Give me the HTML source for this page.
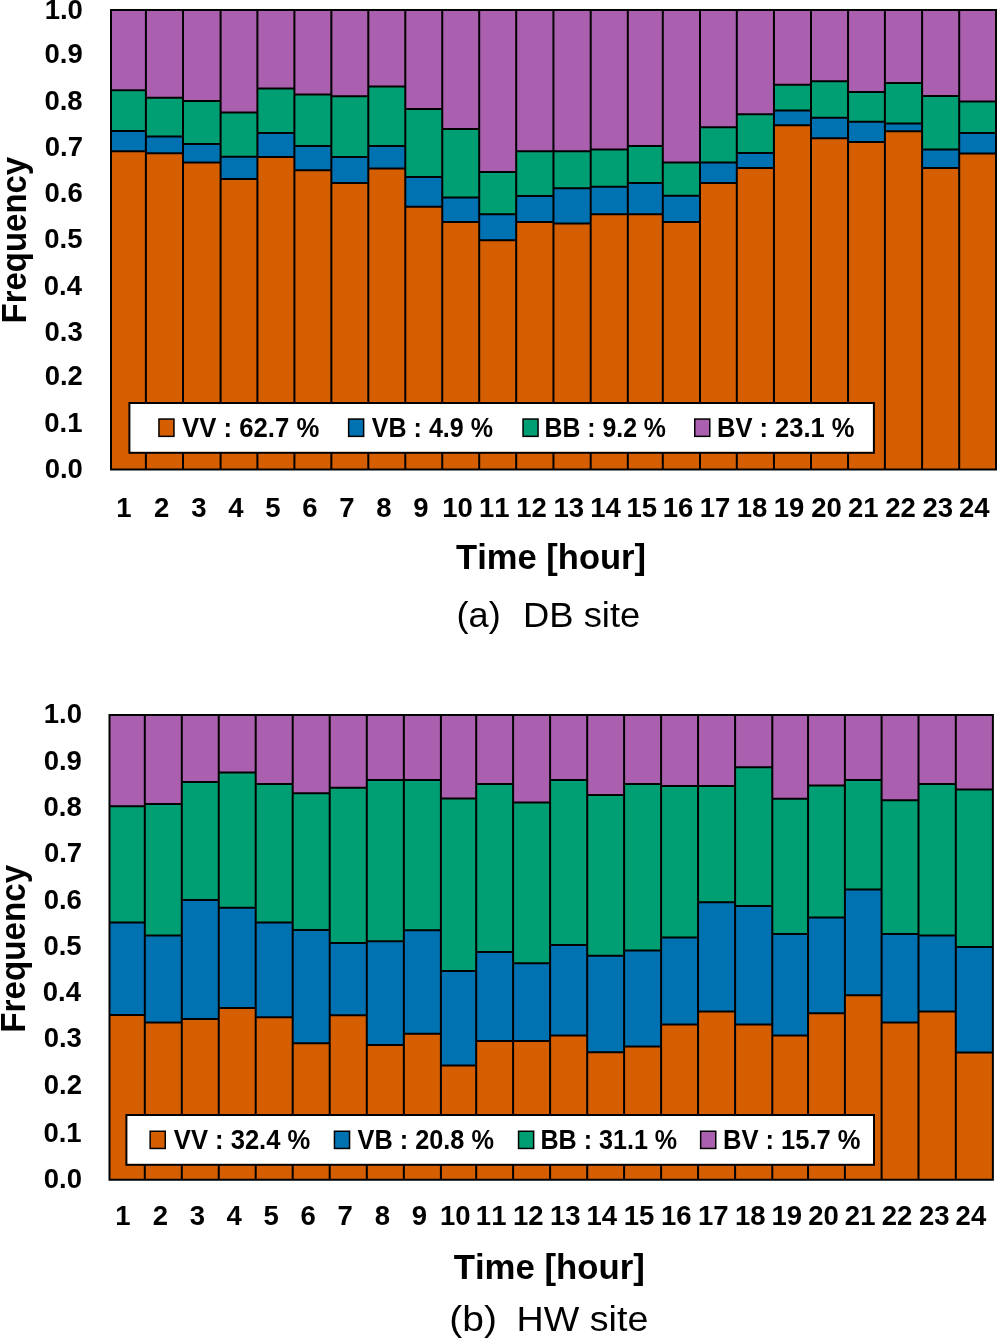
<!DOCTYPE html>
<html><head><meta charset="utf-8"><style>
html,body{margin:0;padding:0;background:#fff;}
body{width:997px;height:1339px;overflow:hidden;}
svg{display:block;will-change:transform;}
text{font-family:"Liberation Sans",sans-serif;fill:#000;font-kerning:none;}
</style></head><body>
<svg width="997" height="1339" viewBox="0 0 997 1339">
<rect x="111.00" y="10.00" width="34.90" height="80.30" fill="#AB5FAF"/>
<rect x="111.00" y="90.30" width="34.90" height="40.80" fill="#009E73"/>
<rect x="111.00" y="131.10" width="34.90" height="20.10" fill="#0072B2"/>
<rect x="111.00" y="151.20" width="34.90" height="318.20" fill="#D55E00"/>
<rect x="145.90" y="10.00" width="37.10" height="87.70" fill="#AB5FAF"/>
<rect x="145.90" y="97.70" width="37.10" height="38.80" fill="#009E73"/>
<rect x="145.90" y="136.50" width="37.10" height="16.80" fill="#0072B2"/>
<rect x="145.90" y="153.30" width="37.10" height="316.10" fill="#D55E00"/>
<rect x="183.00" y="10.00" width="37.60" height="91.10" fill="#AB5FAF"/>
<rect x="183.00" y="101.10" width="37.60" height="42.90" fill="#009E73"/>
<rect x="183.00" y="144.00" width="37.60" height="18.40" fill="#0072B2"/>
<rect x="183.00" y="162.40" width="37.60" height="307.00" fill="#D55E00"/>
<rect x="220.60" y="10.00" width="36.80" height="102.40" fill="#AB5FAF"/>
<rect x="220.60" y="112.40" width="36.80" height="44.40" fill="#009E73"/>
<rect x="220.60" y="156.80" width="36.80" height="22.30" fill="#0072B2"/>
<rect x="220.60" y="179.10" width="36.80" height="290.30" fill="#D55E00"/>
<rect x="257.40" y="10.00" width="37.00" height="78.40" fill="#AB5FAF"/>
<rect x="257.40" y="88.40" width="37.00" height="44.50" fill="#009E73"/>
<rect x="257.40" y="132.90" width="37.00" height="24.20" fill="#0072B2"/>
<rect x="257.40" y="157.10" width="37.00" height="312.30" fill="#D55E00"/>
<rect x="294.40" y="10.00" width="36.95" height="84.40" fill="#AB5FAF"/>
<rect x="294.40" y="94.40" width="36.95" height="51.60" fill="#009E73"/>
<rect x="294.40" y="146.00" width="36.95" height="24.20" fill="#0072B2"/>
<rect x="294.40" y="170.20" width="36.95" height="299.20" fill="#D55E00"/>
<rect x="331.35" y="10.00" width="36.95" height="86.20" fill="#AB5FAF"/>
<rect x="331.35" y="96.20" width="36.95" height="60.90" fill="#009E73"/>
<rect x="331.35" y="157.10" width="36.95" height="26.00" fill="#0072B2"/>
<rect x="331.35" y="183.10" width="36.95" height="286.30" fill="#D55E00"/>
<rect x="368.30" y="10.00" width="37.00" height="76.50" fill="#AB5FAF"/>
<rect x="368.30" y="86.50" width="37.00" height="59.50" fill="#009E73"/>
<rect x="368.30" y="146.00" width="37.00" height="22.40" fill="#0072B2"/>
<rect x="368.30" y="168.40" width="37.00" height="301.00" fill="#D55E00"/>
<rect x="405.30" y="10.00" width="36.95" height="98.90" fill="#AB5FAF"/>
<rect x="405.30" y="108.90" width="36.95" height="68.10" fill="#009E73"/>
<rect x="405.30" y="177.00" width="36.95" height="29.80" fill="#0072B2"/>
<rect x="405.30" y="206.80" width="36.95" height="262.60" fill="#D55E00"/>
<rect x="442.25" y="10.00" width="36.95" height="118.90" fill="#AB5FAF"/>
<rect x="442.25" y="128.90" width="36.95" height="68.60" fill="#009E73"/>
<rect x="442.25" y="197.50" width="36.95" height="24.40" fill="#0072B2"/>
<rect x="442.25" y="221.90" width="36.95" height="247.50" fill="#D55E00"/>
<rect x="479.20" y="10.00" width="37.00" height="161.90" fill="#AB5FAF"/>
<rect x="479.20" y="171.90" width="37.00" height="42.30" fill="#009E73"/>
<rect x="479.20" y="214.20" width="37.00" height="26.00" fill="#0072B2"/>
<rect x="479.20" y="240.20" width="37.00" height="229.20" fill="#D55E00"/>
<rect x="516.20" y="10.00" width="37.25" height="141.20" fill="#AB5FAF"/>
<rect x="516.20" y="151.20" width="37.25" height="44.80" fill="#009E73"/>
<rect x="516.20" y="196.00" width="37.25" height="25.90" fill="#0072B2"/>
<rect x="516.20" y="221.90" width="37.25" height="247.50" fill="#D55E00"/>
<rect x="553.45" y="10.00" width="37.25" height="141.20" fill="#AB5FAF"/>
<rect x="553.45" y="151.20" width="37.25" height="37.00" fill="#009E73"/>
<rect x="553.45" y="188.20" width="37.25" height="35.20" fill="#0072B2"/>
<rect x="553.45" y="223.40" width="37.25" height="246.00" fill="#D55E00"/>
<rect x="590.70" y="10.00" width="37.10" height="139.50" fill="#AB5FAF"/>
<rect x="590.70" y="149.50" width="37.10" height="37.20" fill="#009E73"/>
<rect x="590.70" y="186.70" width="37.10" height="27.50" fill="#0072B2"/>
<rect x="590.70" y="214.20" width="37.10" height="255.20" fill="#D55E00"/>
<rect x="627.80" y="10.00" width="35.00" height="135.90" fill="#AB5FAF"/>
<rect x="627.80" y="145.90" width="35.00" height="37.10" fill="#009E73"/>
<rect x="627.80" y="183.00" width="35.00" height="31.20" fill="#0072B2"/>
<rect x="627.80" y="214.20" width="35.00" height="255.20" fill="#D55E00"/>
<rect x="662.80" y="10.00" width="37.20" height="152.40" fill="#AB5FAF"/>
<rect x="662.80" y="162.40" width="37.20" height="33.40" fill="#009E73"/>
<rect x="662.80" y="195.80" width="37.20" height="26.10" fill="#0072B2"/>
<rect x="662.80" y="221.90" width="37.20" height="247.50" fill="#D55E00"/>
<rect x="700.00" y="10.00" width="36.80" height="117.20" fill="#AB5FAF"/>
<rect x="700.00" y="127.20" width="36.80" height="35.20" fill="#009E73"/>
<rect x="700.00" y="162.40" width="36.80" height="20.60" fill="#0072B2"/>
<rect x="700.00" y="183.00" width="36.80" height="286.40" fill="#D55E00"/>
<rect x="736.80" y="10.00" width="37.15" height="104.20" fill="#AB5FAF"/>
<rect x="736.80" y="114.20" width="37.15" height="38.80" fill="#009E73"/>
<rect x="736.80" y="153.00" width="37.15" height="15.10" fill="#0072B2"/>
<rect x="736.80" y="168.10" width="37.15" height="301.30" fill="#D55E00"/>
<rect x="773.95" y="10.00" width="37.05" height="74.70" fill="#AB5FAF"/>
<rect x="773.95" y="84.70" width="37.05" height="25.80" fill="#009E73"/>
<rect x="773.95" y="110.50" width="37.05" height="14.70" fill="#0072B2"/>
<rect x="773.95" y="125.20" width="37.05" height="344.20" fill="#D55E00"/>
<rect x="811.00" y="10.00" width="37.05" height="71.30" fill="#AB5FAF"/>
<rect x="811.00" y="81.30" width="37.05" height="36.50" fill="#009E73"/>
<rect x="811.00" y="117.80" width="37.05" height="20.50" fill="#0072B2"/>
<rect x="811.00" y="138.30" width="37.05" height="331.10" fill="#D55E00"/>
<rect x="848.05" y="10.00" width="36.85" height="82.10" fill="#AB5FAF"/>
<rect x="848.05" y="92.10" width="36.85" height="29.70" fill="#009E73"/>
<rect x="848.05" y="121.80" width="36.85" height="20.20" fill="#0072B2"/>
<rect x="848.05" y="142.00" width="36.85" height="327.40" fill="#D55E00"/>
<rect x="884.90" y="10.00" width="37.20" height="73.00" fill="#AB5FAF"/>
<rect x="884.90" y="83.00" width="37.20" height="40.40" fill="#009E73"/>
<rect x="884.90" y="123.40" width="37.20" height="7.90" fill="#0072B2"/>
<rect x="884.90" y="131.30" width="37.20" height="338.10" fill="#D55E00"/>
<rect x="922.10" y="10.00" width="37.10" height="85.90" fill="#AB5FAF"/>
<rect x="922.10" y="95.90" width="37.10" height="53.50" fill="#009E73"/>
<rect x="922.10" y="149.40" width="37.10" height="18.60" fill="#0072B2"/>
<rect x="922.10" y="168.00" width="37.10" height="301.40" fill="#D55E00"/>
<rect x="959.20" y="10.00" width="36.80" height="91.40" fill="#AB5FAF"/>
<rect x="959.20" y="101.40" width="36.80" height="31.70" fill="#009E73"/>
<rect x="959.20" y="133.10" width="36.80" height="20.30" fill="#0072B2"/>
<rect x="959.20" y="153.40" width="36.80" height="316.00" fill="#D55E00"/>
<path d="M111.00 90.30H145.90M111.00 131.10H145.90M111.00 151.20H145.90M145.90 97.70H183.00M145.90 136.50H183.00M145.90 153.30H183.00M145.90 10.00V469.40M183.00 101.10H220.60M183.00 144.00H220.60M183.00 162.40H220.60M183.00 10.00V469.40M220.60 112.40H257.40M220.60 156.80H257.40M220.60 179.10H257.40M220.60 10.00V469.40M257.40 88.40H294.40M257.40 132.90H294.40M257.40 157.10H294.40M257.40 10.00V469.40M294.40 94.40H331.35M294.40 146.00H331.35M294.40 170.20H331.35M294.40 10.00V469.40M331.35 96.20H368.30M331.35 157.10H368.30M331.35 183.10H368.30M331.35 10.00V469.40M368.30 86.50H405.30M368.30 146.00H405.30M368.30 168.40H405.30M368.30 10.00V469.40M405.30 108.90H442.25M405.30 177.00H442.25M405.30 206.80H442.25M405.30 10.00V469.40M442.25 128.90H479.20M442.25 197.50H479.20M442.25 221.90H479.20M442.25 10.00V469.40M479.20 171.90H516.20M479.20 214.20H516.20M479.20 240.20H516.20M479.20 10.00V469.40M516.20 151.20H553.45M516.20 196.00H553.45M516.20 221.90H553.45M516.20 10.00V469.40M553.45 151.20H590.70M553.45 188.20H590.70M553.45 223.40H590.70M553.45 10.00V469.40M590.70 149.50H627.80M590.70 186.70H627.80M590.70 214.20H627.80M590.70 10.00V469.40M627.80 145.90H662.80M627.80 183.00H662.80M627.80 214.20H662.80M627.80 10.00V469.40M662.80 162.40H700.00M662.80 195.80H700.00M662.80 221.90H700.00M662.80 10.00V469.40M700.00 127.20H736.80M700.00 162.40H736.80M700.00 183.00H736.80M700.00 10.00V469.40M736.80 114.20H773.95M736.80 153.00H773.95M736.80 168.10H773.95M736.80 10.00V469.40M773.95 84.70H811.00M773.95 110.50H811.00M773.95 125.20H811.00M773.95 10.00V469.40M811.00 81.30H848.05M811.00 117.80H848.05M811.00 138.30H848.05M811.00 10.00V469.40M848.05 92.10H884.90M848.05 121.80H884.90M848.05 142.00H884.90M848.05 10.00V469.40M884.90 83.00H922.10M884.90 123.40H922.10M884.90 131.30H922.10M884.90 10.00V469.40M922.10 95.90H959.20M922.10 149.40H959.20M922.10 168.00H959.20M922.10 10.00V469.40M959.20 101.40H996.00M959.20 133.10H996.00M959.20 153.40H996.00M959.20 10.00V469.40M111.00 10.00H996.00V469.40H111.00Z" fill="none" stroke="#000" stroke-width="2"/>
<rect x="129.4" y="403.0" width="744.50" height="49.80" fill="#fff" stroke="#000" stroke-width="2"/>
<rect x="158.95" y="419.05" width="15.00" height="17.30" fill="#D55E00" stroke="#000" stroke-width="1.5"/>
<text x="182.02" y="437.00" font-size="27.0" font-weight="bold" textLength="137.25" lengthAdjust="spacingAndGlyphs">VV : 62.7 %</text>
<rect x="348.65" y="419.05" width="15.00" height="17.30" fill="#0072B2" stroke="#000" stroke-width="1.5"/>
<text x="371.83" y="437.00" font-size="27.0" font-weight="bold" textLength="121.13" lengthAdjust="spacingAndGlyphs">VB : 4.9 %</text>
<rect x="523.05" y="419.05" width="15.00" height="17.30" fill="#009E73" stroke="#000" stroke-width="1.5"/>
<text x="544.44" y="437.00" font-size="27.0" font-weight="bold" textLength="121.52" lengthAdjust="spacingAndGlyphs">BB : 9.2 %</text>
<rect x="694.75" y="419.05" width="15.00" height="17.30" fill="#AB5FAF" stroke="#000" stroke-width="1.5"/>
<text x="716.99" y="437.00" font-size="27.0" font-weight="bold" textLength="137.58" lengthAdjust="spacingAndGlyphs">BV : 23.1 %</text>
<text x="44.70" y="477.84" font-size="27.5" font-weight="bold">0.0</text>
<text x="44.34" y="431.84" font-size="27.5" font-weight="bold">0.1</text>
<text x="44.67" y="384.84" font-size="27.5" font-weight="bold">0.2</text>
<text x="44.56" y="340.65" font-size="27.5" font-weight="bold">0.3</text>
<text x="43.72" y="294.65" font-size="27.5" font-weight="bold">0.4</text>
<text x="44.34" y="247.55" font-size="27.5" font-weight="bold">0.5</text>
<text x="44.56" y="201.84" font-size="27.5" font-weight="bold">0.6</text>
<text x="44.78" y="155.84" font-size="27.5" font-weight="bold">0.7</text>
<text x="44.42" y="109.55" font-size="27.5" font-weight="bold">0.8</text>
<text x="44.59" y="62.64" font-size="27.5" font-weight="bold">0.9</text>
<text x="44.70" y="18.64" font-size="27.5" font-weight="bold">1.0</text>
<text x="116.27" y="517.20" font-size="27.5" font-weight="bold">1</text>
<text x="153.88" y="517.20" font-size="27.5" font-weight="bold">2</text>
<text x="191.33" y="517.20" font-size="27.5" font-weight="bold">3</text>
<text x="228.22" y="517.20" font-size="27.5" font-weight="bold">4</text>
<text x="265.21" y="517.20" font-size="27.5" font-weight="bold">5</text>
<text x="302.22" y="517.20" font-size="27.5" font-weight="bold">6</text>
<text x="339.19" y="517.20" font-size="27.5" font-weight="bold">7</text>
<text x="376.14" y="517.20" font-size="27.5" font-weight="bold">8</text>
<text x="413.16" y="517.20" font-size="27.5" font-weight="bold">9</text>
<text x="442.13" y="517.20" font-size="27.5" font-weight="bold">10</text>
<text x="478.92" y="517.20" font-size="27.5" font-weight="bold">11</text>
<text x="516.22" y="517.20" font-size="27.5" font-weight="bold">12</text>
<text x="553.41" y="517.20" font-size="27.5" font-weight="bold">13</text>
<text x="590.16" y="517.20" font-size="27.5" font-weight="bold">14</text>
<text x="626.52" y="517.20" font-size="27.5" font-weight="bold">15</text>
<text x="662.74" y="517.20" font-size="27.5" font-weight="bold">16</text>
<text x="699.84" y="517.20" font-size="27.5" font-weight="bold">17</text>
<text x="736.64" y="517.20" font-size="27.5" font-weight="bold">18</text>
<text x="773.82" y="517.20" font-size="27.5" font-weight="bold">19</text>
<text x="811.32" y="517.20" font-size="27.5" font-weight="bold">20</text>
<text x="848.09" y="517.20" font-size="27.5" font-weight="bold">21</text>
<text x="885.28" y="517.20" font-size="27.5" font-weight="bold">22</text>
<text x="922.38" y="517.20" font-size="27.5" font-weight="bold">23</text>
<text x="959.00" y="517.20" font-size="27.5" font-weight="bold">24</text>
<text x="-2.20" y="0" font-size="35.0" font-weight="bold" textLength="166.68" lengthAdjust="spacingAndGlyphs" transform="translate(26.30 321.30) rotate(-90)">Frequency</text>
<text x="456.11" y="568.60" font-size="35.0" font-weight="bold" textLength="189.93" lengthAdjust="spacingAndGlyphs">Time [hour]</text>
<text x="456.56" y="627.10" font-size="35.0" font-weight="normal" textLength="44.18" lengthAdjust="spacingAndGlyphs">(a)</text>
<text x="523.02" y="627.10" font-size="35.0" font-weight="normal" textLength="117.20" lengthAdjust="spacingAndGlyphs">DB site</text>
<rect x="109.50" y="715.00" width="35.30" height="91.20" fill="#AB5FAF"/>
<rect x="109.50" y="806.20" width="35.30" height="116.40" fill="#009E73"/>
<rect x="109.50" y="922.60" width="35.30" height="92.40" fill="#0072B2"/>
<rect x="109.50" y="1015.00" width="35.30" height="164.70" fill="#D55E00"/>
<rect x="144.80" y="715.00" width="37.00" height="89.00" fill="#AB5FAF"/>
<rect x="144.80" y="804.00" width="37.00" height="131.40" fill="#009E73"/>
<rect x="144.80" y="935.40" width="37.00" height="87.20" fill="#0072B2"/>
<rect x="144.80" y="1022.60" width="37.00" height="157.10" fill="#D55E00"/>
<rect x="181.80" y="715.00" width="36.95" height="67.10" fill="#AB5FAF"/>
<rect x="181.80" y="782.10" width="36.95" height="118.00" fill="#009E73"/>
<rect x="181.80" y="900.10" width="36.95" height="118.80" fill="#0072B2"/>
<rect x="181.80" y="1018.90" width="36.95" height="160.80" fill="#D55E00"/>
<rect x="218.75" y="715.00" width="36.95" height="57.50" fill="#AB5FAF"/>
<rect x="218.75" y="772.50" width="36.95" height="135.30" fill="#009E73"/>
<rect x="218.75" y="907.80" width="36.95" height="100.30" fill="#0072B2"/>
<rect x="218.75" y="1008.10" width="36.95" height="171.60" fill="#D55E00"/>
<rect x="255.70" y="715.00" width="37.00" height="69.10" fill="#AB5FAF"/>
<rect x="255.70" y="784.10" width="37.00" height="138.50" fill="#009E73"/>
<rect x="255.70" y="922.60" width="37.00" height="94.60" fill="#0072B2"/>
<rect x="255.70" y="1017.20" width="37.00" height="162.50" fill="#D55E00"/>
<rect x="292.70" y="715.00" width="37.00" height="78.20" fill="#AB5FAF"/>
<rect x="292.70" y="793.20" width="37.00" height="136.70" fill="#009E73"/>
<rect x="292.70" y="929.90" width="37.00" height="113.40" fill="#0072B2"/>
<rect x="292.70" y="1043.30" width="37.00" height="136.40" fill="#D55E00"/>
<rect x="329.70" y="715.00" width="37.10" height="72.80" fill="#AB5FAF"/>
<rect x="329.70" y="787.80" width="37.10" height="155.20" fill="#009E73"/>
<rect x="329.70" y="943.00" width="37.10" height="72.20" fill="#0072B2"/>
<rect x="329.70" y="1015.20" width="37.10" height="164.50" fill="#D55E00"/>
<rect x="366.80" y="715.00" width="37.05" height="65.10" fill="#AB5FAF"/>
<rect x="366.80" y="780.10" width="37.05" height="161.20" fill="#009E73"/>
<rect x="366.80" y="941.30" width="37.05" height="103.70" fill="#0072B2"/>
<rect x="366.80" y="1045.00" width="37.05" height="134.70" fill="#D55E00"/>
<rect x="403.85" y="715.00" width="37.05" height="65.10" fill="#AB5FAF"/>
<rect x="403.85" y="780.10" width="37.05" height="150.10" fill="#009E73"/>
<rect x="403.85" y="930.20" width="37.05" height="103.50" fill="#0072B2"/>
<rect x="403.85" y="1033.70" width="37.05" height="146.00" fill="#D55E00"/>
<rect x="440.90" y="715.00" width="35.30" height="83.60" fill="#AB5FAF"/>
<rect x="440.90" y="798.60" width="35.30" height="172.30" fill="#009E73"/>
<rect x="440.90" y="970.90" width="35.30" height="94.60" fill="#0072B2"/>
<rect x="440.90" y="1065.50" width="35.30" height="114.20" fill="#D55E00"/>
<rect x="476.20" y="715.00" width="36.90" height="69.10" fill="#AB5FAF"/>
<rect x="476.20" y="784.10" width="36.90" height="168.00" fill="#009E73"/>
<rect x="476.20" y="952.10" width="36.90" height="89.00" fill="#0072B2"/>
<rect x="476.20" y="1041.10" width="36.90" height="138.60" fill="#D55E00"/>
<rect x="513.10" y="715.00" width="37.00" height="87.50" fill="#AB5FAF"/>
<rect x="513.10" y="802.50" width="37.00" height="160.70" fill="#009E73"/>
<rect x="513.10" y="963.20" width="37.00" height="77.90" fill="#0072B2"/>
<rect x="513.10" y="1041.10" width="37.00" height="138.60" fill="#D55E00"/>
<rect x="550.10" y="715.00" width="37.10" height="65.10" fill="#AB5FAF"/>
<rect x="550.10" y="780.10" width="37.10" height="164.90" fill="#009E73"/>
<rect x="550.10" y="945.00" width="37.10" height="90.40" fill="#0072B2"/>
<rect x="550.10" y="1035.40" width="37.10" height="144.30" fill="#D55E00"/>
<rect x="587.20" y="715.00" width="36.90" height="80.10" fill="#AB5FAF"/>
<rect x="587.20" y="795.10" width="36.90" height="160.70" fill="#009E73"/>
<rect x="587.20" y="955.80" width="36.90" height="96.40" fill="#0072B2"/>
<rect x="587.20" y="1052.20" width="36.90" height="127.50" fill="#D55E00"/>
<rect x="624.10" y="715.00" width="37.00" height="69.10" fill="#AB5FAF"/>
<rect x="624.10" y="784.10" width="37.00" height="166.30" fill="#009E73"/>
<rect x="624.10" y="950.40" width="37.00" height="96.10" fill="#0072B2"/>
<rect x="624.10" y="1046.50" width="37.00" height="133.20" fill="#D55E00"/>
<rect x="661.10" y="715.00" width="36.95" height="71.00" fill="#AB5FAF"/>
<rect x="661.10" y="786.00" width="36.95" height="151.60" fill="#009E73"/>
<rect x="661.10" y="937.60" width="36.95" height="87.00" fill="#0072B2"/>
<rect x="661.10" y="1024.60" width="36.95" height="155.10" fill="#D55E00"/>
<rect x="698.05" y="715.00" width="37.05" height="71.00" fill="#AB5FAF"/>
<rect x="698.05" y="786.00" width="37.05" height="116.30" fill="#009E73"/>
<rect x="698.05" y="902.30" width="37.05" height="109.20" fill="#0072B2"/>
<rect x="698.05" y="1011.50" width="37.05" height="168.20" fill="#D55E00"/>
<rect x="735.10" y="715.00" width="37.20" height="52.30" fill="#AB5FAF"/>
<rect x="735.10" y="767.30" width="37.20" height="138.70" fill="#009E73"/>
<rect x="735.10" y="906.00" width="37.20" height="118.60" fill="#0072B2"/>
<rect x="735.10" y="1024.60" width="37.20" height="155.10" fill="#D55E00"/>
<rect x="772.30" y="715.00" width="35.75" height="83.80" fill="#AB5FAF"/>
<rect x="772.30" y="798.80" width="35.75" height="135.30" fill="#009E73"/>
<rect x="772.30" y="934.10" width="35.75" height="101.30" fill="#0072B2"/>
<rect x="772.30" y="1035.40" width="35.75" height="144.30" fill="#D55E00"/>
<rect x="808.05" y="715.00" width="36.85" height="70.50" fill="#AB5FAF"/>
<rect x="808.05" y="785.50" width="36.85" height="131.90" fill="#009E73"/>
<rect x="808.05" y="917.40" width="36.85" height="95.80" fill="#0072B2"/>
<rect x="808.05" y="1013.20" width="36.85" height="166.50" fill="#D55E00"/>
<rect x="844.90" y="715.00" width="36.70" height="65.10" fill="#AB5FAF"/>
<rect x="844.90" y="780.10" width="36.70" height="109.40" fill="#009E73"/>
<rect x="844.90" y="889.50" width="36.70" height="105.70" fill="#0072B2"/>
<rect x="844.90" y="995.20" width="36.70" height="184.50" fill="#D55E00"/>
<rect x="881.60" y="715.00" width="36.90" height="85.30" fill="#AB5FAF"/>
<rect x="881.60" y="800.30" width="36.90" height="133.80" fill="#009E73"/>
<rect x="881.60" y="934.10" width="36.90" height="88.50" fill="#0072B2"/>
<rect x="881.60" y="1022.60" width="36.90" height="157.10" fill="#D55E00"/>
<rect x="918.50" y="715.00" width="37.30" height="69.10" fill="#AB5FAF"/>
<rect x="918.50" y="784.10" width="37.30" height="151.50" fill="#009E73"/>
<rect x="918.50" y="935.60" width="37.30" height="75.90" fill="#0072B2"/>
<rect x="918.50" y="1011.50" width="37.30" height="168.20" fill="#D55E00"/>
<rect x="955.80" y="715.00" width="37.10" height="74.50" fill="#AB5FAF"/>
<rect x="955.80" y="789.50" width="37.10" height="157.40" fill="#009E73"/>
<rect x="955.80" y="946.90" width="37.10" height="105.50" fill="#0072B2"/>
<rect x="955.80" y="1052.40" width="37.10" height="127.30" fill="#D55E00"/>
<path d="M109.50 806.20H144.80M109.50 922.60H144.80M109.50 1015.00H144.80M144.80 804.00H181.80M144.80 935.40H181.80M144.80 1022.60H181.80M144.80 715.00V1179.70M181.80 782.10H218.75M181.80 900.10H218.75M181.80 1018.90H218.75M181.80 715.00V1179.70M218.75 772.50H255.70M218.75 907.80H255.70M218.75 1008.10H255.70M218.75 715.00V1179.70M255.70 784.10H292.70M255.70 922.60H292.70M255.70 1017.20H292.70M255.70 715.00V1179.70M292.70 793.20H329.70M292.70 929.90H329.70M292.70 1043.30H329.70M292.70 715.00V1179.70M329.70 787.80H366.80M329.70 943.00H366.80M329.70 1015.20H366.80M329.70 715.00V1179.70M366.80 780.10H403.85M366.80 941.30H403.85M366.80 1045.00H403.85M366.80 715.00V1179.70M403.85 780.10H440.90M403.85 930.20H440.90M403.85 1033.70H440.90M403.85 715.00V1179.70M440.90 798.60H476.20M440.90 970.90H476.20M440.90 1065.50H476.20M440.90 715.00V1179.70M476.20 784.10H513.10M476.20 952.10H513.10M476.20 1041.10H513.10M476.20 715.00V1179.70M513.10 802.50H550.10M513.10 963.20H550.10M513.10 1041.10H550.10M513.10 715.00V1179.70M550.10 780.10H587.20M550.10 945.00H587.20M550.10 1035.40H587.20M550.10 715.00V1179.70M587.20 795.10H624.10M587.20 955.80H624.10M587.20 1052.20H624.10M587.20 715.00V1179.70M624.10 784.10H661.10M624.10 950.40H661.10M624.10 1046.50H661.10M624.10 715.00V1179.70M661.10 786.00H698.05M661.10 937.60H698.05M661.10 1024.60H698.05M661.10 715.00V1179.70M698.05 786.00H735.10M698.05 902.30H735.10M698.05 1011.50H735.10M698.05 715.00V1179.70M735.10 767.30H772.30M735.10 906.00H772.30M735.10 1024.60H772.30M735.10 715.00V1179.70M772.30 798.80H808.05M772.30 934.10H808.05M772.30 1035.40H808.05M772.30 715.00V1179.70M808.05 785.50H844.90M808.05 917.40H844.90M808.05 1013.20H844.90M808.05 715.00V1179.70M844.90 780.10H881.60M844.90 889.50H881.60M844.90 995.20H881.60M844.90 715.00V1179.70M881.60 800.30H918.50M881.60 934.10H918.50M881.60 1022.60H918.50M881.60 715.00V1179.70M918.50 784.10H955.80M918.50 935.60H955.80M918.50 1011.50H955.80M918.50 715.00V1179.70M955.80 789.50H992.90M955.80 946.90H992.90M955.80 1052.40H992.90M955.80 715.00V1179.70M109.50 715.00H992.90V1179.70H109.50Z" fill="none" stroke="#000" stroke-width="2"/>
<rect x="126.4" y="1115.0" width="747.60" height="49.80" fill="#fff" stroke="#000" stroke-width="2"/>
<rect x="150.15" y="1131.25" width="15.10" height="17.20" fill="#D55E00" stroke="#000" stroke-width="1.5"/>
<text x="173.83" y="1149.00" font-size="27.0" font-weight="bold" textLength="136.45" lengthAdjust="spacingAndGlyphs">VV : 32.4 %</text>
<rect x="334.45" y="1131.25" width="15.10" height="17.20" fill="#0072B2" stroke="#000" stroke-width="1.5"/>
<text x="357.53" y="1149.00" font-size="27.0" font-weight="bold" textLength="136.44" lengthAdjust="spacingAndGlyphs">VB : 20.8 %</text>
<rect x="518.55" y="1131.25" width="15.10" height="17.20" fill="#009E73" stroke="#000" stroke-width="1.5"/>
<text x="540.42" y="1149.00" font-size="27.0" font-weight="bold" textLength="136.74" lengthAdjust="spacingAndGlyphs">BB : 31.1 %</text>
<rect x="700.65" y="1131.25" width="15.10" height="17.20" fill="#AB5FAF" stroke="#000" stroke-width="1.5"/>
<text x="722.99" y="1149.00" font-size="27.0" font-weight="bold" textLength="137.58" lengthAdjust="spacingAndGlyphs">BV : 15.7 %</text>
<text x="43.80" y="1187.74" font-size="27.5" font-weight="bold">0.0</text>
<text x="43.44" y="1141.64" font-size="27.5" font-weight="bold">0.1</text>
<text x="43.77" y="1093.85" font-size="27.5" font-weight="bold">0.2</text>
<text x="43.66" y="1046.94" font-size="27.5" font-weight="bold">0.3</text>
<text x="42.82" y="1000.64" font-size="27.5" font-weight="bold">0.4</text>
<text x="43.44" y="955.04" font-size="27.5" font-weight="bold">0.5</text>
<text x="43.66" y="908.94" font-size="27.5" font-weight="bold">0.6</text>
<text x="43.88" y="861.64" font-size="27.5" font-weight="bold">0.7</text>
<text x="43.52" y="815.79" font-size="27.5" font-weight="bold">0.8</text>
<text x="43.69" y="770.00" font-size="27.5" font-weight="bold">0.9</text>
<text x="43.80" y="722.75" font-size="27.5" font-weight="bold">1.0</text>
<text x="115.17" y="1225.30" font-size="27.5" font-weight="bold">1</text>
<text x="152.73" y="1225.30" font-size="27.5" font-weight="bold">2</text>
<text x="189.81" y="1225.30" font-size="27.5" font-weight="bold">3</text>
<text x="226.44" y="1225.30" font-size="27.5" font-weight="bold">4</text>
<text x="263.51" y="1225.30" font-size="27.5" font-weight="bold">5</text>
<text x="300.55" y="1225.30" font-size="27.5" font-weight="bold">6</text>
<text x="337.62" y="1225.30" font-size="27.5" font-weight="bold">7</text>
<text x="374.66" y="1225.30" font-size="27.5" font-weight="bold">8</text>
<text x="411.76" y="1225.30" font-size="27.5" font-weight="bold">9</text>
<text x="439.95" y="1225.30" font-size="27.5" font-weight="bold">10</text>
<text x="475.87" y="1225.30" font-size="27.5" font-weight="bold">11</text>
<text x="512.99" y="1225.30" font-size="27.5" font-weight="bold">12</text>
<text x="549.99" y="1225.30" font-size="27.5" font-weight="bold">13</text>
<text x="586.56" y="1225.30" font-size="27.5" font-weight="bold">14</text>
<text x="623.82" y="1225.30" font-size="27.5" font-weight="bold">15</text>
<text x="660.91" y="1225.30" font-size="27.5" font-weight="bold">16</text>
<text x="698.02" y="1225.30" font-size="27.5" font-weight="bold">17</text>
<text x="734.96" y="1225.30" font-size="27.5" font-weight="bold">18</text>
<text x="771.52" y="1225.30" font-size="27.5" font-weight="bold">19</text>
<text x="808.27" y="1225.30" font-size="27.5" font-weight="bold">20</text>
<text x="844.86" y="1225.30" font-size="27.5" font-weight="bold">21</text>
<text x="881.83" y="1225.30" font-size="27.5" font-weight="bold">22</text>
<text x="918.88" y="1225.30" font-size="27.5" font-weight="bold">23</text>
<text x="955.60" y="1225.30" font-size="27.5" font-weight="bold">24</text>
<text x="-2.22" y="0" font-size="35.0" font-weight="bold" textLength="168.00" lengthAdjust="spacingAndGlyphs" transform="translate(24.70 1030.50) rotate(-90)">Frequency</text>
<text x="453.71" y="1278.90" font-size="35.0" font-weight="bold" textLength="191.24" lengthAdjust="spacingAndGlyphs">Time [hour]</text>
<text x="449.28" y="1331.10" font-size="35.0" font-weight="normal" textLength="47.63" lengthAdjust="spacingAndGlyphs">(b)</text>
<text x="516.51" y="1331.10" font-size="35.0" font-weight="normal" textLength="131.86" lengthAdjust="spacingAndGlyphs">HW site</text>
</svg>
</body></html>
